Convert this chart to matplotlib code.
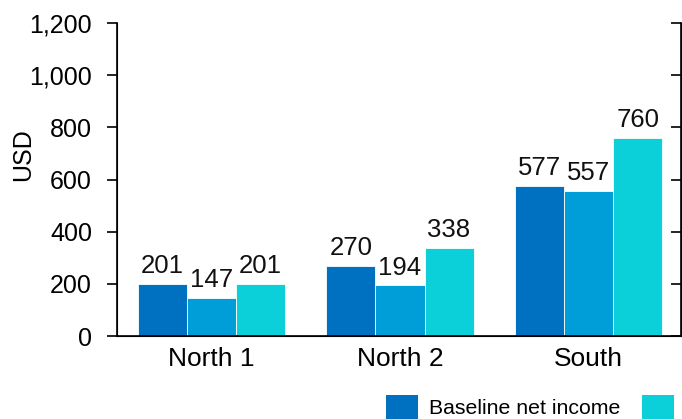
import numpy as np
import matplotlib
matplotlib.use("Agg")
from matplotlib import pyplot as plt
from matplotlib.ticker import FuncFormatter
from matplotlib.patches import Patch

plt.rcParams['font.family'] = ['Liberation Sans', 'DejaVu Sans']

regions = ["North 1", "North 2", "South"]
baseline = [201, 270, 577]
series_2 = [147, 194, 557]
series_3 = [201, 338, 760]
series_names = ["Baseline net income", "Series 2 net income", "Series 3 net income"]
colors = ["#0070C0", "#009ED8", "#0BD0D9"]

fig = plt.figure(figsize=(6.82, 4.19), dpi=100)
ax = fig.add_axes([0.1716, 0.198, 0.827, 0.747])

x = np.arange(len(regions))
w = 0.26
for i, vals in enumerate([baseline, series_2, series_3]):
    bars = ax.bar(x + (i - 1) * w, vals, w, color=colors[i],
                  edgecolor="white", linewidth=0.6, label=series_names[i])
    for b, v in zip(bars, vals):
        ax.annotate(str(v), (b.get_x() + b.get_width() / 2, v),
                    xytext=(0, 4), textcoords="offset points",
                    ha="center", va="bottom", fontsize=18.5, color="#111111")

ax.set_xlim(-0.5, 2.49)
ax.set_ylim(0, 1200)
ax.set_yticks(range(0, 1201, 200))
ax.yaxis.set_major_formatter(FuncFormatter(lambda v, p: f"{int(v):,}"))
ax.set_xticks(x)
ax.set_xticklabels(regions)
ax.tick_params(axis="x", length=0, labelsize=19, pad=8)
ax.tick_params(axis="y", labelsize=18, length=7, direction="out", width=1.2, pad=11)
ax.set_ylabel("USD", fontsize=18)
ax.yaxis.set_label_coords(-0.145, 0.58)

ax.spines["top"].set_visible(False)
for s in ["left", "right", "bottom"]:
    ax.spines[s].set_linewidth(1.2)

# right axis: ticks pointing in, no labels
ax2 = ax.twinx()
ax2.set_ylim(0, 1200)
ax2.set_yticks(range(0, 1201, 200))
ax2.set_yticklabels([])
ax2.tick_params(axis="y", direction="in", length=7, width=1.2)
ax2.spines["top"].set_visible(False)

# legend runs past the bottom/right edge, as in the source image
handles = [Patch(facecolor=c) for c in colors]
fig.legend(handles, series_names, ncol=2, loc="upper left",
           bbox_to_anchor=(386 / 682, 1 - 395 / 419), frameon=False,
           fontsize=15.3, borderpad=0, borderaxespad=0, handlelength=1.5,
           handleheight=1.35, handletextpad=0.5, columnspacing=1.05,
           labelspacing=2.5)

fig.savefig("out.png", dpi=100)
